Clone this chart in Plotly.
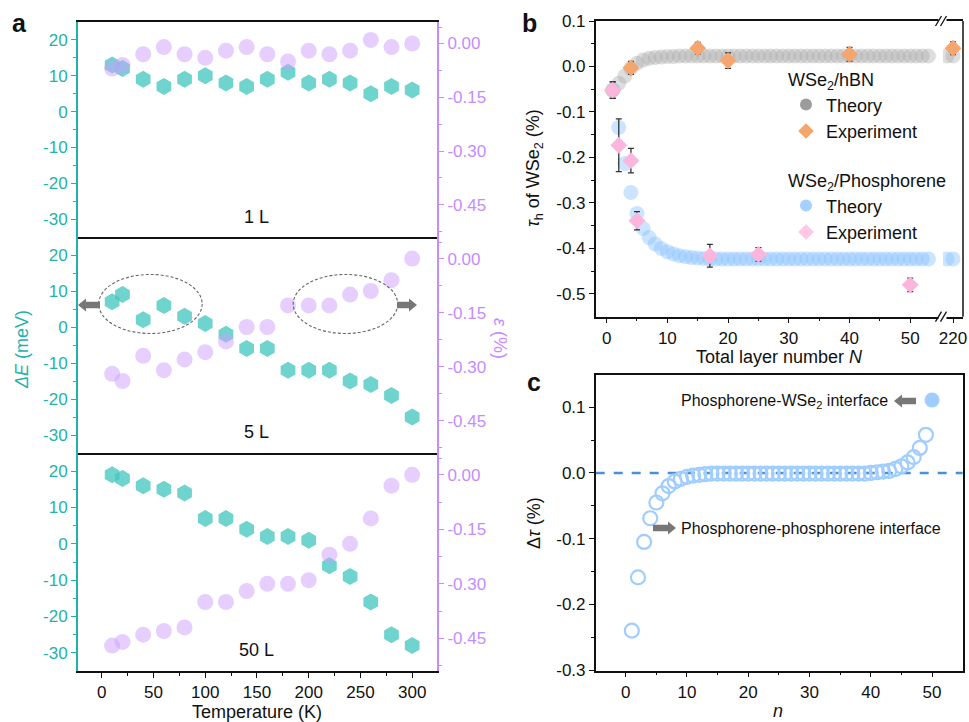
import plotly.graph_objects as go

# ---------------- data: panel a ----------------
T = [10, 20, 40, 60, 80, 100, 120, 140, 160, 180, 200, 220, 240, 260, 280, 300]
dE_1L = [13, 12, 9, 7, 9, 10, 8, 7, 9, 11, 8, 9, 8, 5, 7, 6]
eps_1L = [-0.07, -0.06, -0.03, -0.01, -0.03, -0.04, -0.02, -0.01, -0.03, -0.05, -0.02, -0.03, -0.02, 0.01, -0.01, 0.0]
dE_5L = [7, 9, 2, 6, 3, 1, -2, -6, -6, -12, -12, -12, -15, -16, -19, -25]
eps_5L = [-0.32, -0.34, -0.27, -0.31, -0.28, -0.26, -0.23, -0.19, -0.19, -0.13, -0.13, -0.13, -0.10, -0.09, -0.06, 0.0]
dE_50L = [19, 18, 16, 15, 14, 7, 7, 4, 2, 2, 1, -6, -9, -16, -25, -28]
eps_50L = [-0.47, -0.46, -0.44, -0.43, -0.42, -0.35, -0.35, -0.32, -0.30, -0.30, -0.29, -0.22, -0.19, -0.12, -0.03, 0.0]
panel_a_labels = ["1 L", "5 L", "50 L"]

dE_ticks = [-30, -20, -10, 0, 10, 20]
dE_ticktext = ["-30", "-20", "-10", "0", "10", "20"]
eps_ticks = [-0.45, -0.30, -0.15, 0.0]
eps_ticktext = ["-0.45", "-0.30", "-0.15", "0.00"]
T_ticks = [0, 50, 100, 150, 200, 250, 300]

# ---------------- data: panel b ----------------
N_theory = list(range(1, 54))
tau_hbn_theory = [-0.052, -0.037, -0.021, -0.004, 0.007, 0.014, 0.018, 0.020, 0.021, 0.022,
                  0.022, 0.023, 0.023, 0.023, 0.023, 0.023, 0.023, 0.023, 0.023, 0.023,
                  0.023, 0.023, 0.023, 0.023, 0.023, 0.023, 0.023, 0.023, 0.023, 0.023,
                  0.023, 0.023, 0.023, 0.023, 0.023, 0.023, 0.023, 0.023, 0.023, 0.023,
                  0.023, 0.023, 0.023, 0.023, 0.023, 0.023, 0.023, 0.023, 0.023, 0.023,
                  0.023, 0.023, 0.023]
tau_ph_theory = [-0.052, -0.134, -0.213, -0.277, -0.323, -0.356, -0.376, -0.390, -0.400, -0.407,
                 -0.412, -0.416, -0.418, -0.420, -0.421, -0.422, -0.423, -0.423, -0.423, -0.423,
                 -0.423, -0.423, -0.423, -0.423, -0.423, -0.423, -0.423, -0.423, -0.423, -0.423,
                 -0.423, -0.423, -0.423, -0.423, -0.423, -0.423, -0.423, -0.423, -0.423, -0.423,
                 -0.423, -0.423, -0.423, -0.423, -0.423, -0.423, -0.423, -0.423, -0.423, -0.423,
                 -0.423, -0.423, -0.423]
N_far = [214, 220]
tau_hbn_far = [0.023, 0.023]
tau_ph_far = [-0.423, -0.423]

N_hbn_exp = [1, 4, 15, 20, 40]
tau_hbn_exp = [-0.052, -0.003, 0.040, 0.013, 0.027]
err_hbn_exp = [0.018, 0.014, 0.013, 0.017, 0.015]
N_hbn_exp_far = [220]
tau_hbn_exp_far = [0.040]
err_hbn_exp_far = [0.014]

N_ph_exp = [1, 2, 4, 5, 17, 25, 50]
tau_ph_exp = [-0.052, -0.173, -0.207, -0.339, -0.416, -0.413, -0.480]
err_ph_exp = [0.018, 0.058, 0.027, 0.020, 0.025, 0.015, 0.015]

b_yticks = [-0.5, -0.4, -0.3, -0.2, -0.1, 0.0, 0.1]
b_yticktext = ["-0.5", "-0.4", "-0.3", "-0.2", "-0.1", "0.0", "0.1"]
b_xticks = [0, 10, 20, 30, 40, 50]
b_xticks_far = [220]

# ---------------- data: panel c ----------------
n_c = list(range(1, 50))
dtau = [-0.240, -0.159, -0.105, -0.069, -0.045, -0.031, -0.020, -0.013, -0.009, -0.006,
        -0.004, -0.003, -0.002, -0.001, -0.001, -0.001, -0.001, -0.001, -0.001, -0.001,
        -0.001, -0.001, -0.001, -0.001, -0.001, -0.001, -0.001, -0.001, -0.001, -0.001,
        -0.001, -0.001, -0.001, -0.001, -0.001, -0.001, -0.001, -0.001, -0.001, 0.000,
        0.001, 0.002, 0.003, 0.006, 0.010, 0.016, 0.024, 0.038, 0.058]
n_iface = [50]
dtau_iface = [0.111]
c_yticks = [-0.3, -0.2, -0.1, 0.0, 0.1]
c_yticktext = ["-0.3", "-0.2", "-0.1", "0.0", "0.1"]
c_xticks = [0, 10, 20, 30, 40, 50]

# ---------------- style helpers ----------------
W, H = 969, 722
def px(x):
    return x / W
def py(y):
    return 1 - y / H

FONT = "Liberation Sans, Arial, Helvetica, sans-serif"
TEAL = "#1FB3AB"
PURPLE = "#C48DFF"
HEX = "rgb(70,198,192)"
CIRC = "rgb(205,160,255)"
BLACK = "#111111"

fig = go.Figure()

# ---------- panel a traces ----------
rows = [("x", "y", "y2", dE_1L, eps_1L), ("x2", "y3", "y4", dE_5L, eps_5L), ("x3", "y5", "y6", dE_50L, eps_50L)]
for xa, yl, yr, dE, eps in rows:
    fig.add_trace(go.Scatter(x=T, y=eps, mode="markers", xaxis=xa, yaxis=yr, showlegend=False,
                             marker=dict(symbol="circle", size=16, color=CIRC, opacity=0.5, line=dict(width=0))))
    fig.add_trace(go.Scatter(x=T, y=dE, mode="markers", xaxis=xa, yaxis=yl, showlegend=False,
                             marker=dict(symbol="hexagon", size=17, color=HEX, opacity=0.78, line=dict(width=0))))

# ---------- panel b traces ----------
GRAY_T = "rgb(170,170,170)"
BLUE_T = "rgb(140,195,255)"
ORANGE = "rgb(245,165,110)"
PINK = "rgb(250,182,220)"
fig.add_trace(go.Scatter(x=N_theory, y=tau_hbn_theory, mode="markers", xaxis="x4", yaxis="y7", showlegend=False,
                         marker=dict(size=15, color=GRAY_T, opacity=0.4, line=dict(width=0))))
fig.add_trace(go.Scatter(x=N_far, y=tau_hbn_far, mode="markers", xaxis="x5", yaxis="y7", showlegend=False,
                         marker=dict(size=15, color=GRAY_T, opacity=0.4, line=dict(width=0))))
fig.add_trace(go.Scatter(x=N_theory, y=tau_ph_theory, mode="markers", xaxis="x4", yaxis="y7", showlegend=False,
                         marker=dict(size=15, color=BLUE_T, opacity=0.45, line=dict(width=0))))
fig.add_trace(go.Scatter(x=N_far, y=tau_ph_far, mode="markers", xaxis="x5", yaxis="y7", showlegend=False,
                         marker=dict(size=15, color=BLUE_T, opacity=0.45, line=dict(width=0))))
errstyle = dict(type="data", color="#333333", thickness=1.3, width=3)
fig.add_trace(go.Scatter(x=N_hbn_exp, y=tau_hbn_exp, mode="markers", xaxis="x4", yaxis="y7", showlegend=False,
                         error_y=dict(array=err_hbn_exp, **errstyle),
                         marker=dict(symbol="diamond", size=13, color=ORANGE, line=dict(width=0))))
fig.add_trace(go.Scatter(x=N_hbn_exp_far, y=tau_hbn_exp_far, mode="markers", xaxis="x5", yaxis="y7", showlegend=False,
                         error_y=dict(array=err_hbn_exp_far, **errstyle),
                         marker=dict(symbol="diamond", size=13, color=ORANGE, line=dict(width=0))))
fig.add_trace(go.Scatter(x=N_ph_exp, y=tau_ph_exp, mode="markers", xaxis="x4", yaxis="y7", showlegend=False,
                         error_y=dict(array=err_ph_exp, **errstyle),
                         marker=dict(symbol="diamond", size=13, color=PINK, line=dict(width=0))))
# legend entries
fig.add_trace(go.Scatter(x=[None], y=[None], mode="markers", xaxis="x4", yaxis="y7", name="Theory", legend="legend",
                         marker=dict(size=17, color="#9c9c9c")))
fig.add_trace(go.Scatter(x=[None], y=[None], mode="markers", xaxis="x4", yaxis="y7", name="Experiment", legend="legend",
                         marker=dict(symbol="diamond", size=16, color="#F5A66C")))
fig.add_trace(go.Scatter(x=[None], y=[None], mode="markers", xaxis="x4", yaxis="y7", name="Theory", legend="legend2",
                         marker=dict(size=17, color="#A6D0FF")))
fig.add_trace(go.Scatter(x=[None], y=[None], mode="markers", xaxis="x4", yaxis="y7", name="Experiment", legend="legend2",
                         marker=dict(symbol="diamond", size=16, color="#FFC6E6")))

# ---------- panel c traces ----------
CBLUE = "rgb(160,205,255)"
fig.add_trace(go.Scatter(x=n_c, y=dtau, mode="markers", xaxis="x6", yaxis="y8", showlegend=False,
                         marker=dict(symbol="circle-open", size=14, color=CBLUE, line=dict(width=2.2, color=CBLUE))))
fig.add_trace(go.Scatter(x=n_iface, y=dtau_iface, mode="markers", xaxis="x6", yaxis="y8", showlegend=False,
                         marker=dict(symbol="circle", size=15, color=CBLUE, line=dict(width=0))))

# ---------- axes ----------
tickfont = dict(family=FONT, size=17, color=BLACK)
a_xdom = [px(78), px(437)]
a_ydoms = [[py(237), py(22)], [py(453), py(237)], [py(671), py(453)]]
T_range = [-23, 324]
layout = {}
for i, (xa, yl, yr) in enumerate([("xaxis", "yaxis", "yaxis2"), ("xaxis2", "yaxis3", "yaxis4"), ("xaxis3", "yaxis5", "yaxis6")]):
    ylname = "y" if i == 0 else "y%d" % (2 * i + 1)
    xname = "x" if i == 0 else "x%d" % (i + 1)
    last = (i == 2)
    layout[xa] = dict(domain=a_xdom, anchor=ylname, range=T_range, showline=True, linecolor=BLACK, linewidth=1.5,
                      mirror=(i == 0), showgrid=False, zeroline=False,
                      ticks="outside" if last else "", showticklabels=last, tickvals=T_ticks,
                      ticklen=5, tickwidth=1.2, tickcolor=BLACK, tickfont=tickfont)
    if last:
        layout[xa]["minor"] = dict(tickvals=[-25, 25, 75, 125, 175, 225, 275, 325], ticklen=3, tickcolor=BLACK, ticks="outside")
    layout[yl] = dict(domain=a_ydoms[i], anchor=xname, range=[-35, 25], showline=True, linecolor=TEAL, linewidth=2,
                      showgrid=False, zeroline=False, ticks="outside", ticklen=5, tickwidth=1.2, tickcolor=TEAL,
                      tickvals=dE_ticks, ticktext=dE_ticktext, tickfont=dict(family=FONT, size=17, color=TEAL),
                      minor=dict(tickvals=[-25, -15, -5, 5, 15], ticklen=3, tickcolor=TEAL, ticks="outside"))
    layout[yr] = dict(overlaying=ylname, anchor=xname, side="right", range=[-0.54, 0.06], showline=True,
                      linecolor=PURPLE, linewidth=2, showgrid=False, zeroline=False, ticks="outside", ticklen=5,
                      tickwidth=1.2, tickcolor=PURPLE, tickvals=eps_ticks, ticktext=eps_ticktext,
                      tickfont=dict(family=FONT, size=17, color=PURPLE),
                      minor=dict(tickvals=[-0.525, -0.375, -0.225, -0.075, 0.045], ticklen=3, tickcolor=PURPLE, ticks="outside"))

b_ydom = [py(316.7), py(21)]
layout["xaxis4"] = dict(domain=[px(595.7), px(943)], anchor="y7", range=[-1.8, 55.4], showline=True, linecolor=BLACK,
                        linewidth=1.5, mirror=True, showgrid=False, zeroline=False, ticks="outside", ticklen=5,
                        tickwidth=1.2, tickcolor=BLACK, tickvals=b_xticks, tickfont=tickfont,
                        minor=dict(tickvals=[5, 15, 25, 35, 45], ticklen=3, tickcolor=BLACK, ticks="outside"))
layout["xaxis5"] = dict(domain=[px(943), px(963)], anchor="y7", range=[210, 230], showline=True, linecolor=BLACK,
                        linewidth=1.5, mirror=True, showgrid=False, zeroline=False, ticks="outside", ticklen=5,
                        tickwidth=1.2, tickcolor=BLACK, tickvals=b_xticks_far, tickfont=tickfont)
layout["yaxis7"] = dict(domain=b_ydom, anchor="x4", range=[-0.55, 0.1], showline=True, linecolor=BLACK, linewidth=1.5,
                        showgrid=False, zeroline=False, ticks="outside", ticklen=5, tickwidth=1.2, tickcolor=BLACK,
                        tickvals=b_yticks, ticktext=b_yticktext, tickfont=tickfont,
                        minor=dict(tickvals=[-0.45, -0.35, -0.25, -0.15, -0.05, 0.05], ticklen=3, tickcolor=BLACK, ticks="outside"))

c_ydom = [py(670.7), py(375)]
layout["xaxis6"] = dict(domain=[px(595.7), px(962.7)], anchor="y8", range=[-4.9, 55], showline=True, linecolor=BLACK,
                        linewidth=1.5, mirror=True, showgrid=False, zeroline=False, ticks="outside", ticklen=5,
                        tickwidth=1.2, tickcolor=BLACK, tickvals=c_xticks, tickfont=tickfont,
                        minor=dict(tickvals=[5, 15, 25, 35, 45], ticklen=3, tickcolor=BLACK, ticks="outside"))
layout["yaxis8"] = dict(domain=c_ydom, anchor="x6", range=[-0.301, 0.149], showline=True, linecolor=BLACK, linewidth=1.5,
                        mirror=True, showgrid=False, zeroline=False, ticks="outside", ticklen=5, tickwidth=1.2,
                        tickcolor=BLACK, tickvals=c_yticks, ticktext=c_yticktext, tickfont=tickfont,
                        minor=dict(tickvals=[-0.25, -0.15, -0.05, 0.05], ticklen=3, tickcolor=BLACK, ticks="outside"))

# ---------- shapes ----------
shapes = []
# dashed ellipses (5 L panel)
for x0, x1 in [(-3, 97), (185, 286)]:
    shapes.append(dict(type="circle", xref="x2", yref="y3", x0=x0, x1=x1, y0=-1.8, y1=14.6,
                       line=dict(color="#666666", width=1.1, dash="3px,2px")))
# panel b right frame
shapes.append(dict(type="line", xref="paper", yref="paper", x0=px(963), x1=px(963), y0=b_ydom[0], y1=b_ydom[1],
                   line=dict(color=BLACK, width=1.5)))
# axis break marks
for yb in [21, 316.7]:
    shapes.append(dict(type="rect", xref="paper", yref="paper", x0=px(938.5), x1=px(946.5), y0=py(yb + 2.5), y1=py(yb - 2.5),
                       fillcolor="white", line=dict(width=0)))
    for dx in [0, 5]:
        shapes.append(dict(type="line", xref="paper", yref="paper", x0=px(935.5 + dx), x1=px(941.5 + dx),
                           y0=py(yb + 5), y1=py(yb - 5), line=dict(color=BLACK, width=1.3)))
# panel c zero line
shapes.append(dict(type="line", xref="x6 domain", yref="y8", x0=0, x1=1, y0=0, y1=0,
                   line=dict(color="#4A90D9", width=2.5, dash="dash"), layer="below"))

# block arrows (gray), drawn as filled paths in page pixels
ARROW = "#777777"
def block_arrow(x_tail, x_tip, y, shaft=3.2, head=6.5, head_len=8):
    s = 1 if x_tip > x_tail else -1
    xb = x_tip - s * head_len
    pts = [(x_tail, y - shaft), (xb, y - shaft), (xb, y - head), (x_tip, y), (xb, y + head), (xb, y + shaft), (x_tail, y + shaft)]
    path = "M " + " L ".join("%.5f,%.5f" % (px(a), py(b)) for a, b in pts) + " Z"
    shapes.append(dict(type="path", xref="paper", yref="paper", path=path, fillcolor=ARROW, line=dict(width=0)))

block_arrow(100, 78, 305)
block_arrow(397, 417, 305)
block_arrow(916, 894, 401)
block_arrow(653, 676, 528)

# ---------- annotations ----------
ann = []
def label(x, y, text, size=18, color=BLACK, **kw):
    d = dict(x=px(x), y=py(y), xref="paper", yref="paper", text=text, showarrow=False,
             xanchor="center", yanchor="middle", font=dict(family=FONT, size=size, color=color))
    d.update(kw)
    ann.append(d)

label(19, 23, "<b>a</b>", size=25)
label(529, 23, "<b>b</b>", size=25)
label(534, 382, "<b>c</b>", size=25)
label(22, 350, "<i>ΔE</i> (meV)", size=18, color=TEAL, textangle=-90)
label(500, 338, "<i>ε</i> (%)", size=18, color=PURPLE, textangle=90)
label(257, 712, "Temperature (K)", size=18)
label(534, 168, "<i>τ</i><sub>h</sub> of WSe<sub>2</sub> (%)", size=18, textangle=-90)
label(779, 357, "Total layer number <i>N</i>", size=18)
label(534, 523, "Δ<i>τ</i> (%)", size=18, textangle=-90)
label(778, 711, "<i>n</i>", size=18)

for xa, ya, txt in zip(["x", "x2", "x3"], ["y", "y3", "y5"], panel_a_labels):
    ann.append(dict(x=150, y=-29.3, xref=xa, yref=ya, text=txt, showarrow=False,
                    xanchor="center", yanchor="middle", font=dict(family=FONT, size=18, color=BLACK)))

ann.append(dict(x=px(890), y=py(401), xref="paper", yref="paper", xanchor="right", yanchor="middle",
                text="Phosphorene-WSe<sub>2</sub> interface",
                showarrow=False, font=dict(family=FONT, size=16, color=BLACK)))
ann.append(dict(x=px(679), y=py(528), xref="paper", yref="paper", xanchor="left", yanchor="middle",
                text="Phosphorene-phosphorene interface",
                showarrow=False, font=dict(family=FONT, size=16, color=BLACK)))

fig.update_layout(
    width=W, height=H, margin=dict(l=0, r=0, t=0, b=0, autoexpand=False),
    paper_bgcolor="white", plot_bgcolor="rgba(0,0,0,0)",
    font=dict(family=FONT, size=17, color=BLACK),
    shapes=shapes, annotations=ann,
    legend=dict(x=px(786), y=py(63), xanchor="left", yanchor="top", bgcolor="rgba(0,0,0,0)",
                title=dict(text="WSe<sub>2</sub>/hBN", font=dict(family=FONT, size=18)),
                font=dict(family=FONT, size=18), itemsizing="constant"),
    legend2=dict(x=px(786), y=py(164), xanchor="left", yanchor="top", bgcolor="rgba(0,0,0,0)",
                 title=dict(text="WSe<sub>2</sub>/Phosphorene", font=dict(family=FONT, size=18)),
                 font=dict(family=FONT, size=18), itemsizing="constant"),
    **layout,
)

fig.write_html("out.html", config={"responsive": False, "displayModeBar": False},
               post_script="document.body.style.margin='0';document.body.style.padding='0';")
